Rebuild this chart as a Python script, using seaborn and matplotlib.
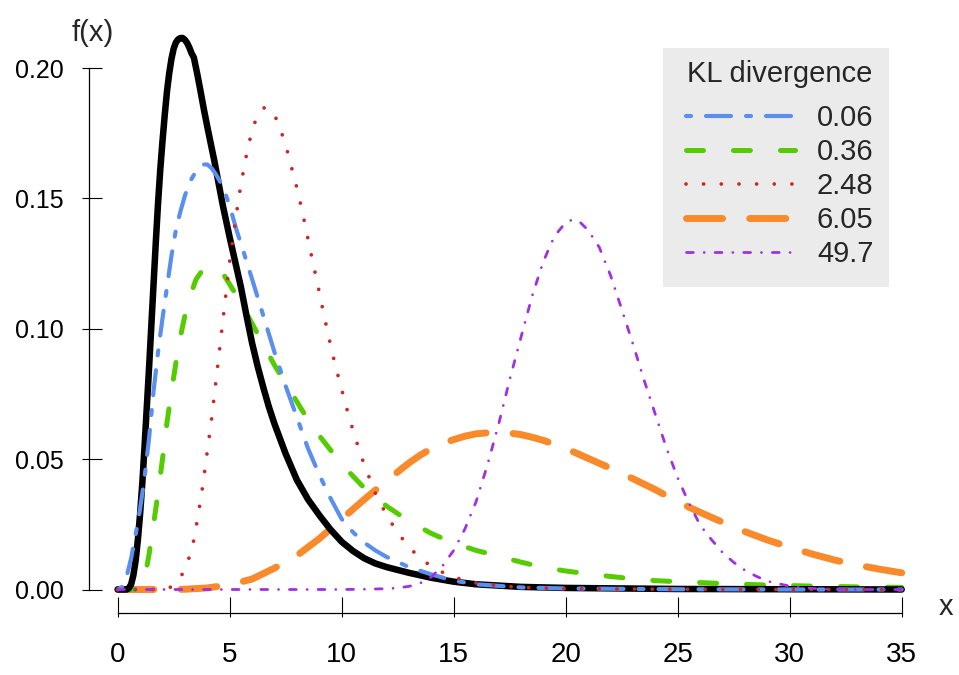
import matplotlib
matplotlib.use("Agg")
import matplotlib.pyplot as plt
from matplotlib.patches import Rectangle
from matplotlib.ticker import FixedLocator
import seaborn as sns

# ---------------- data ----------------
x_black = [0, 0.4, 0.5, 0.6, 0.7, 0.8, 0.9, 1.0, 1.1, 1.2, 1.3, 1.4, 1.5, 1.6, 1.7, 1.8, 1.9, 2.0, 2.1, 2.2,
           2.3, 2.4, 2.5, 2.6, 2.7, 2.8, 2.9, 3.0, 3.1, 3.2, 3.3, 3.4, 3.55, 3.7, 3.85, 4.0, 4.15, 4.3, 4.5,
           4.7, 4.85, 5.0, 5.25, 5.5, 5.75, 6.0, 6.25, 6.5, 6.75, 7.0, 7.5, 8.0, 8.5, 9.0, 9.5, 10, 10.5, 11,
           11.5, 12, 13, 14, 15, 16, 18, 20, 25, 30, 35]
y_black = [0, 0, 0.0005, 0.002, 0.0055, 0.011, 0.019, 0.029, 0.041, 0.055, 0.070, 0.085, 0.101, 0.117, 0.133,
           0.148, 0.161, 0.172, 0.182, 0.191, 0.198, 0.2035, 0.2075, 0.2098, 0.2110, 0.2115, 0.2115, 0.2108,
           0.2096, 0.2078, 0.2056, 0.2040, 0.1978, 0.1910, 0.1840, 0.1775, 0.1712, 0.1650, 0.1560, 0.1470,
           0.1410, 0.1350, 0.1255, 0.1160, 0.1050, 0.0945, 0.0855, 0.0775, 0.0700, 0.0635, 0.0520, 0.0420,
           0.0345, 0.0285, 0.0230, 0.0183, 0.0148, 0.0120, 0.0100, 0.0086, 0.0064, 0.0045, 0.003, 0.002, 0.001,
           0.0006, 0.0002, 0.0001, 0]

x_blue = [0, 0.2, 0.4, 0.6, 0.8, 1.0, 1.2, 1.4, 1.6, 1.8, 2.0, 2.2, 2.4, 2.6, 2.8, 3.0, 3.2, 3.4, 3.6, 3.8,
          4.0, 4.2, 4.4, 4.6, 4.8, 5.0, 5.3, 5.6, 6.0, 6.5, 7.0, 7.5, 8.0, 8.5, 9.0, 9.5, 10, 10.5, 11, 11.5,
          12, 13, 14, 15, 16, 18, 20, 25, 30, 35]
y_blue = [0, 0.001, 0.005, 0.012, 0.021, 0.031, 0.043, 0.058, 0.076, 0.091, 0.104, 0.116, 0.128, 0.138, 0.145,
          0.151, 0.156, 0.159, 0.1615, 0.163, 0.163, 0.1615, 0.159, 0.156, 0.152, 0.147, 0.138, 0.130, 0.119,
          0.105, 0.091, 0.078, 0.066, 0.054, 0.044, 0.035, 0.027, 0.022, 0.018, 0.015, 0.0125, 0.0086, 0.0058,
          0.0034, 0.002, 0.0008, 0.0004, 0.0001, 0, 0]

x_green = [0, 0.8, 1.0, 1.2, 1.4, 1.6, 1.8, 2.0, 2.2, 2.4, 2.6, 2.8, 3.0, 3.25, 3.5, 3.75, 4.0, 4.25, 4.5, 4.75,
           5.0, 5.5, 6.0, 6.5, 7.0, 7.5, 8.0, 8.5, 9.0, 10, 11, 12, 13, 14, 15, 16, 17, 18, 19, 20, 21, 22, 23,
           24, 25, 27, 29, 31, 33, 35]
y_green = [0, 0, 0.0005, 0.004, 0.0135, 0.025, 0.037, 0.050, 0.064, 0.076, 0.087, 0.097, 0.105, 0.113, 0.119,
           0.122, 0.1235, 0.124, 0.123, 0.1205, 0.117, 0.110, 0.102, 0.094, 0.086, 0.079, 0.072, 0.065, 0.059,
           0.048, 0.039, 0.032, 0.0262, 0.0215, 0.0178, 0.015, 0.0128, 0.0105, 0.0085, 0.0071, 0.006, 0.005,
           0.0041, 0.0034, 0.003, 0.0023, 0.0017, 0.0013, 0.001, 0.0008]

x_red = [0, 2.0, 2.4, 2.8, 3.0, 3.2, 3.4, 3.6, 3.8, 4.0, 4.2, 4.4, 4.6, 4.8, 5.0, 5.2, 5.4, 5.6, 5.8, 6.0,
         6.2, 6.4, 6.6, 6.8, 7.0, 7.2, 7.4, 7.6, 7.8, 8.0, 8.2, 8.4, 8.6, 8.8, 9.0, 9.2, 9.4, 9.6, 9.8, 10.0,
         10.3, 10.6, 11.0, 11.5, 12.0, 12.5, 13.0, 13.5, 14.0, 14.5, 15.0, 16.0, 17.0, 18.0, 20.0, 25.0, 30.0, 35.0]
y_red = [0, 0, 0.001, 0.0045, 0.008, 0.0125, 0.019, 0.029, 0.040, 0.053, 0.066, 0.081, 0.096, 0.111, 0.126,
         0.138, 0.150, 0.160, 0.169, 0.176, 0.181, 0.184, 0.185, 0.1843, 0.182, 0.178, 0.173, 0.1673, 0.1605,
         0.154, 0.1465, 0.1385, 0.130, 0.122, 0.114, 0.1055, 0.0977, 0.090, 0.0832, 0.0767, 0.067, 0.0583,
         0.048, 0.037, 0.0285, 0.0218, 0.0163, 0.012, 0.0089, 0.0066, 0.0047, 0.0025, 0.0015, 0.0008, 0.0003,
         0.0001, 0, 0]

x_orange = [0, 1, 2, 3, 4, 5, 6, 7, 8, 9, 10, 11, 11.5, 12, 12.5, 13, 13.5, 14, 14.5, 15, 15.5, 16, 16.5, 17,
            17.5, 18, 18.5, 19, 19.5, 20, 20.5, 21, 22, 23, 24, 25, 26, 27, 28, 29, 30, 31, 32, 33, 34, 35]
y_orange = [0, 0, 0, 0.0001, 0.0006, 0.0018, 0.004, 0.0082, 0.013, 0.0195, 0.027, 0.0345, 0.0381, 0.0415,
            0.0451, 0.0485, 0.0515, 0.054, 0.0560, 0.0575, 0.0588, 0.0597, 0.0601, 0.0602, 0.0600, 0.0594,
            0.0584, 0.0572, 0.0557, 0.0541, 0.0522, 0.0503, 0.0465, 0.0425, 0.0383, 0.0336, 0.0296, 0.0258,
            0.0222, 0.019, 0.0162, 0.0136, 0.0113, 0.0094, 0.0078, 0.0064]

x_purple = [0, 10, 11, 12, 12.5, 13, 13.5, 14, 14.5, 15, 15.5, 16, 16.5, 17, 17.5, 18, 18.5, 19, 19.5, 20,
            20.3, 20.6, 21, 21.5, 22, 22.5, 23, 23.5, 24, 24.5, 25, 25.5, 26, 26.5, 27, 27.5, 28, 28.5, 29,
            29.5, 30, 31, 32, 33, 35]
y_purple = [0, 0, 0.0001, 0.0003, 0.0006, 0.0012, 0.0024, 0.0048, 0.009, 0.015, 0.0232, 0.0337, 0.0476,
            0.0632, 0.0805, 0.0966, 0.1125, 0.1258, 0.1355, 0.1408, 0.1418, 0.1412, 0.1378, 0.1312, 0.1205,
            0.1075, 0.0942, 0.0803, 0.0672, 0.0542, 0.0428, 0.0332, 0.0247, 0.0192, 0.0142, 0.0104, 0.0074,
            0.0051, 0.0032, 0.0022, 0.0013, 0.0004, 0.0001, 0, 0]

kl_labels = ["0.06", "0.36", "2.48", "6.05", "49.7"]
legend_title = "KL divergence"
x_ticks = [0, 5, 10, 15, 20, 25, 30, 35]
x_tick_labels = ["0", "5", "10", "15", "20", "25", "30", "35"]
y_ticks = [0.0, 0.05, 0.10, 0.15, 0.20]
y_tick_labels = ["0.00", "0.05", "0.10", "0.15", "0.20"]

# ---------------- style ----------------
sns.set_style("white")
plt.rcParams["font.family"] = ["Liberation Sans", "DejaVu Sans"]
plt.rcParams["lines.scale_dashes"] = False
plt.rcParams["axes.linewidth"] = 0.9

W, H = 959, 675
fig = plt.figure(figsize=(W / 100, H / 100), dpi=100)
L, R, B, T = 89, 912, 613, 18           # axes box in pixels (left, right, bottom, top from top)
ax = fig.add_axes([L / W, 1 - B / H, (R - L) / W, (B - T) / H])
ax.set_facecolor("white")

px_x0, px_per_x = 117.7, 22.4
px_y0, px_per_y = 589.5, 2607.5
ax.set_xlim((L - px_x0) / px_per_x, (R - px_x0) / px_per_x)
ax.set_ylim((px_y0 - B) / px_per_y, (px_y0 - T) / px_per_y)


def draw(x, y, **kw):
    sns.lineplot(x=x, y=y, ax=ax, sort=False, errorbar=None, legend=False, **kw)
    return ax.get_lines()[-1]


l_orange = draw(x_orange, y_orange, color="#F98A2B", linewidth=5.0,
                linestyle=(0, (26, 19.5)), dash_capstyle="round")
l_green = draw(x_green, y_green, color="#55CC00", linewidth=3.6,
               linestyle=(0, (12.2, 21.6)), dash_capstyle="round")
l_black = draw(x_black, y_black, color="black", linewidth=4.7,
               linestyle="-", solid_capstyle="round", solid_joinstyle="round")
l_blue = draw(x_blue, y_blue, color="#5B8FEE", linewidth=3.0,
              linestyle=(0, (3.6, 10.8, 18.0, 10.8)), dash_capstyle="round")
l_red = draw(x_red, y_red, color="#CD2626", linewidth=2.7,
             linestyle=(0, (0.01, 12.7)), dash_capstyle="round")
l_purple = draw(x_purple, y_purple, color="#A030E0", linewidth=2.0,
                linestyle=(0, (4.9, 7.85, 0.01, 7.85)), dash_capstyle="round")

ax.set_xlabel("")
ax.set_ylabel("")

# axes / ticks
for s in ["top", "right"]:
    ax.spines[s].set_visible(False)
for s in ["left", "bottom"]:
    ax.spines[s].set_color("black")
    ax.spines[s].set_linewidth(0.9)
ax.spines["left"].set_bounds(y_ticks[0], y_ticks[-1])
ax.spines["bottom"].set_bounds(x_ticks[0], x_ticks[-1])

ax.set_xticks(x_ticks)
ax.set_xticklabels(x_tick_labels)
ax.set_yticks(y_ticks)
ax.set_yticklabels(y_tick_labels)
ax.xaxis.set_minor_locator(FixedLocator(x_ticks))
ax.yaxis.set_minor_locator(FixedLocator(y_ticks))
ax.xaxis.remove_overlapping_locs = False
ax.yaxis.remove_overlapping_locs = False
ax.tick_params(axis="x", which="both", bottom=True, top=False)
ax.tick_params(axis="y", which="both", left=True, right=False)
ax.tick_params(axis="x", which="major", direction="in", length=11.5, width=0.8,
               labelsize=20, pad=21, color="black", labelcolor="black")
ax.tick_params(axis="y", which="major", direction="in", length=9.4, width=0.8,
               labelsize=18, pad=18, color="black", labelcolor="black")
ax.tick_params(axis="x", which="minor", direction="out", length=3.2, width=0.8, color="black")
ax.tick_params(axis="y", which="minor", direction="out", length=5.0, width=0.8, color="black")
ax.grid(False)

# axis titles
fig.text(93 / W, 1 - 41 / H, "f(x)", ha="center", va="baseline", fontsize=21)
fig.text(946 / W, 1 - 615 / H, "x", ha="center", va="baseline", fontsize=21)

# legend
ax.add_patch(Rectangle((663 / W, 1 - 287 / H), 226 / W, 239 / H, transform=fig.transFigure,
                       facecolor="#EBEBEB", edgecolor="none", zorder=4, clip_on=False))
fs = 21
fpx = fs * 100 / 72
leg = ax.legend([l_blue, l_green, l_red, l_orange, l_purple], kl_labels, title=legend_title,
                loc="upper left", bbox_to_anchor=(686 / W, 1 - 60 / H), bbox_transform=fig.transFigure,
                frameon=False, borderpad=0, borderaxespad=0, fontsize=fs, title_fontsize=fs,
                handlelength=109 / fpx, handletextpad=22 / fpx, labelspacing=0.205)
leg.set_zorder(5)
leg._legend_box.sep = 11.8

fig.savefig("out.png", dpi=100)
